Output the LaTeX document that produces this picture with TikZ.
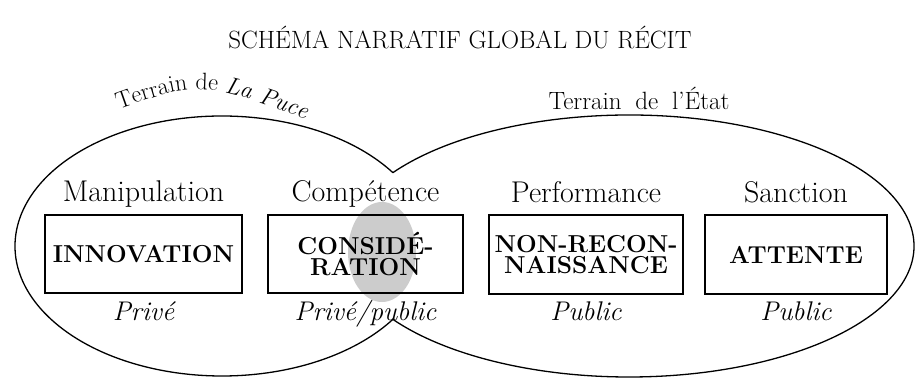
\documentclass[tikz,border=0pt]{standalone}
\usepackage{tikz}
\usetikzlibrary{positioning, decorations.text}

\begin{document}
\begin{tikzpicture}[x=1pt, y=1pt,
  box/.style={rectangle, draw, line width=2pt, minimum height=78pt, inner sep=2pt,
    font=\fontsize{24.5}{21.5}\selectfont\bfseries, align=center},
  phase/.style={inner sep=0pt, text height=21pt, text depth=7pt,
    font=\fontsize{30}{32}\selectfont},
  vis/.style={inner sep=0pt, text height=20pt, text depth=7pt,
    font=\fontsize{27}{30}\selectfont\itshape},
  heading/.style={font=\fontsize{25}{30}\selectfont},
  zone/.style={line width=1.3pt}
]
\useasboundingbox (0,0) rectangle (920,-379);

% title
\node[heading] (titre) at (460,-38) {SCHÉMA NARRATIF GLOBAL DU RÉCIT};

% the two fields
\draw[zone] (222,-246) ++(34.3:207 and 130)
  arc[start angle=34.3, end angle=325.7, x radius=207, y radius=130];
\draw[zone] (629,-246) ++(145.97:285 and 131)
  arc[start angle=145.97, end angle=-145.97, x radius=285, y radius=131];
% shaded overlap
\fill[gray!40] (382,-252) ellipse [x radius=34, y radius=50];

\path[decorate, decoration={text along path, text align=center,
    text={|\fontsize{24}{26}\selectfont|Terrain de |+\itshape|La Puce}}]
  (108,-113) .. controls (200,-80) .. (316,-123);
\node[font=\fontsize{25}{26}\selectfont, anchor=base] (etat) at (639,-110)
  {Terrain\hspace{0.55em}de\hspace{0.55em}l'État};

% stages
\node[box, minimum width=197pt] (innov) at (143.5,-254) {INNOVATION};
\node[box, minimum width=195pt] (consid) at (365.5,-254) {CONSIDÉ-\\RATION};
\node[box, minimum width=194pt] (nonrec) at (586,-254.5) {NON-RECON-\\NAISSANCE};
\node[box, minimum width=182pt] (attente) at (796,-254.5) {ATTENTE};

\node[phase, above=5pt of innov] (manip) {Manipulation};
\node[phase, above=5pt of consid] (compet) {Compétence};
\node[phase, above=5pt of nonrec] (perf) {Performance};
\node[phase, above=5pt of attente] (sanct) {Sanction};

\node[vis, below=6pt of innov] (prive) {Privé};
\node[vis, below=6pt of consid] (mixte) {Privé/public};
\node[vis, below=6pt of nonrec] (public1) {Public};
\node[vis, below=6pt of attente] (public2) {Public};
\end{tikzpicture}
\end{document}
